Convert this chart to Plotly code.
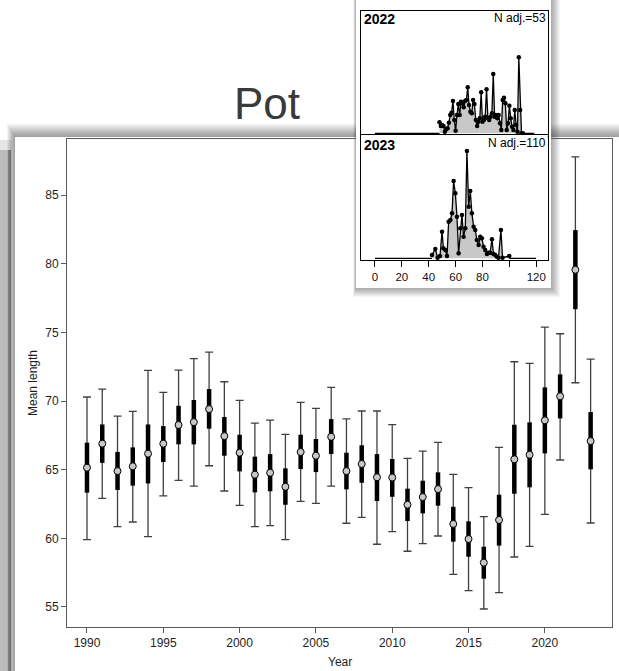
import plotly.graph_objects as go

W, H = 619, 671
FONT = "Liberation Sans, Arial, sans-serif"

# ---- yearly mean length with inner / outer intervals ----
years = list(range(1990, 2024))
mean_len = [65.15, 66.9, 64.9, 65.25, 66.17, 66.9, 68.26, 68.47, 69.42, 67.45,
            66.24, 64.64, 64.78, 63.76, 66.29, 66.02, 67.4, 64.9, 65.42, 64.45,
            64.43, 62.45, 63.01, 63.59, 61.05, 59.95, 58.23, 61.34, 65.76, 66.09,
            68.6, 70.35, 79.57, 67.09]
inner_lo = [63.33, 65.5, 63.52, 63.84, 64.0, 65.56, 66.85, 66.85, 67.99, 66.02,
            64.88, 63.35, 63.43, 62.45, 65.05, 64.83, 66.14, 63.57, 64.05, 62.72,
            63.03, 61.26, 61.82, 62.38, 59.76, 58.66, 57.06, 59.47, 63.25, 63.72,
            66.19, 68.74, 76.7, 65.03]
inner_hi = [66.97, 68.3, 66.3, 66.63, 68.3, 68.18, 69.66, 70.08, 70.88, 68.84,
            67.55, 65.95, 66.14, 65.1, 67.55, 67.24, 68.69, 66.24, 66.78, 66.14,
            65.78, 63.62, 64.2, 64.81, 62.3, 61.24, 59.39, 63.18, 68.28, 68.45,
            71.0, 71.95, 82.46, 69.2]
outer_lo = [59.9, 62.92, 60.85, 61.19, 60.12, 63.1, 64.23, 63.81, 65.29, 63.45,
            62.4, 60.85, 60.92, 59.9, 62.7, 62.55, 63.81, 61.1, 61.53, 59.57,
            60.49, 59.06, 59.61, 60.17, 57.38, 56.19, 54.85, 56.04, 58.64, 59.42,
            61.75, 65.71, 71.34, 61.12]
outer_hi = [70.3, 70.88, 68.9, 69.25, 72.24, 70.64, 72.26, 73.09, 73.57, 71.41,
            70.05, 68.4, 68.62, 67.58, 69.91, 69.47, 71.0, 68.71, 69.28, 69.28,
            68.28, 65.83, 66.36, 67.0, 64.66, 63.69, 61.58, 66.63, 72.87, 72.75,
            75.39, 74.91, 87.8, 73.06]

x_ticks = [1990, 1995, 2000, 2005, 2010, 2015, 2020]
y_ticks = [55, 60, 65, 70, 75, 80, 85]

# ---- length distributions (relative frequency) ----
len_2022 = list(range(48, 111))
freq_2022 = [33, 22, 24, 22, 5, 12, 15, 32, 55, 62, 97, 40, 8, 55, 88, 55, 95, 90,
             78, 97, 100, 138, 85, 65, 60, 100, 88, 40, 22, 35, 45, 123, 35, 40,
             50, 132, 45, 40, 50, 60, 178, 50, 55, 45, 55, 30, 10, 100, 107, 90,
             10, 30, 83, 45, 20, 10, 70, 25, 5, 228, 70, 0, 0]
len_2023 = [42.4, 44.9, 46.6, 48.4, 49.9, 50.9, 52.4, 53.6, 54.8, 56.1, 57.3,
            58.5, 59.8, 61.0, 62.2, 63.5, 64.7, 65.9, 67.2, 68.4, 69.7, 70.9,
            72.1, 73.4, 74.6, 75.8, 77.1, 78.3, 79.5, 80.8, 82.0, 83.3, 84.5,
            85.7, 87.0, 88.2, 89.5, 90.7, 91.9, 93.7, 94.9, 99.9]
freq_2023 = [10, 28, 2, 7, 80, 30, 25, 7, 110, 115, 135, 232, 195, 125, 15, 90,
             130, 65, 90, 322, 155, 202, 135, 95, 85, 55, 40, 65, 60, 35, 25, 13,
             17, 17, 57, 13, 10, 5, 2, 85, 2, 7]
len_ticks = [0, 20, 40, 60, 80, 100, 120]
len_tick_text = ["0", "20", "40", "60", "80", "", "120"]


def px(x):
    return x / W


def py(y):
    return 1 - y / H


def rect(x0, y0, x1, y1, fill):
    return dict(type="rect", xref="paper", yref="paper", layer="below",
                x0=px(x0), x1=px(x1), y0=py(y1), y1=py(y0),
                fillcolor=fill, line=dict(width=0))


fig = go.Figure()

# outer interval whiskers
fig.add_trace(go.Scatter(
    x=years, y=mean_len, mode="markers", marker=dict(size=2, opacity=0),
    error_y=dict(type="data", symmetric=False,
                 array=[h - m for h, m in zip(outer_hi, mean_len)],
                 arrayminus=[m - l for m, l in zip(mean_len, outer_lo)],
                 width=4, thickness=1.3, color="#404040"),
    hoverinfo="skip", showlegend=False))
# inner interval bars
fig.add_trace(go.Scatter(
    x=years, y=mean_len, mode="markers", marker=dict(size=2, opacity=0),
    error_y=dict(type="data", symmetric=False,
                 array=[h - m for h, m in zip(inner_hi, mean_len)],
                 arrayminus=[m - l for m, l in zip(mean_len, inner_lo)],
                 width=0, thickness=4.5, color="#000000"),
    hoverinfo="skip", showlegend=False))
# means
fig.add_trace(go.Scatter(
    x=years, y=mean_len, mode="markers",
    marker=dict(symbol="circle", size=7, color="#c8c8c8",
                line=dict(color="#000000", width=1)),
    showlegend=False))

# card behind the inset panels (its own subplot so its background hides the frame)
fig.add_trace(go.Scatter(x=[None], y=[None], xaxis="x2", yaxis="y2",
                         showlegend=False, hoverinfo="skip"))


def dist_traces(lengths, freqs, xa, ya, x_end):
    fig.add_trace(go.Scatter(
        x=[0, lengths[0]], y=[0, 0], xaxis=xa, yaxis=ya, mode="lines",
        line=dict(color="#000000", width=1.3), showlegend=False, hoverinfo="skip"))
    fig.add_trace(go.Scatter(
        x=[lengths[-1], x_end], y=[0, 0], xaxis=xa, yaxis=ya, mode="lines",
        line=dict(color="#000000", width=1.3), showlegend=False, hoverinfo="skip"))
    fig.add_trace(go.Scatter(
        x=lengths, y=freqs, xaxis=xa, yaxis=ya, mode="lines+markers",
        fill="tozeroy", fillcolor="#c8c8c8",
        line=dict(color="#000000", width=1.3),
        marker=dict(color="#000000", size=4.5), showlegend=False))


dist_traces(len_2022, freq_2022, "x3", "y3", 118.5)
dist_traces(len_2023, freq_2023, "x4", "y4", 119.8)

tick_font = dict(family=FONT, size=12, color="#1e1e1e")

shapes = []
# back panel on the left edge
shapes.append(rect(0, 140, 12, H, "#e6e6e6"))
shapes.append(rect(0, 150, 11, H, "#bcbcbc"))
shapes.append(rect(8, 150, 11, H, "#8c8c8c"))
# soft shadow of the main card
for k in range(10, 0, -1):
    shapes.append(rect(15 - k * 0.8, 137 - k * 1.3, W + 20, H + 20,
                       "rgba(0,0,0,0.045)"))
shapes.append(rect(15, 137, W + 20, H + 20, "#ffffff"))
# soft shadow of the inset card
for k in range(9, 0, -1):
    shapes.append(rect(356 - k * 0.3, 0, 551 + k, 288 + k, "rgba(0,0,0,0.04)"))

annotations = [
    dict(text="Pot", x=px(267), y=py(103), xref="paper", yref="paper",
         showarrow=False, font=dict(family=FONT, size=44, color="#3a3a3a"),
         xanchor="center", yanchor="middle"),
    dict(text="Mean length", x=px(33), y=py(383), xref="paper", yref="paper",
         textangle=-90, showarrow=False, font=tick_font,
         xanchor="center", yanchor="middle"),
    dict(text="Year", x=px(340), y=py(662), xref="paper", yref="paper",
         showarrow=False, font=tick_font, xanchor="center", yanchor="middle"),
    dict(text="<b>2022</b>", x=px(362), y=py(19), xref="paper", yref="paper",
         showarrow=False, font=dict(family=FONT, size=14, color="#000"),
         xanchor="left", yanchor="middle"),
    dict(text="N adj.=53", x=px(548), y=py(17.5), xref="paper", yref="paper",
         showarrow=False, font=dict(family=FONT, size=12, color="#000"),
         xanchor="right", yanchor="middle"),
    dict(text="<b>2023</b>", x=px(362), y=py(145), xref="paper", yref="paper",
         showarrow=False, font=dict(family=FONT, size=14, color="#000"),
         xanchor="left", yanchor="middle"),
    dict(text="N adj.=110", x=px(548), y=py(143), xref="paper", yref="paper",
         showarrow=False, font=dict(family=FONT, size=12, color="#000"),
         xanchor="right", yanchor="middle"),
]

frame = dict(showline=True, mirror=True, linecolor="#5a5a5a", linewidth=1,
             showgrid=False, zeroline=False)
box = dict(showline=True, mirror=True, linecolor="#000000", linewidth=1,
           showgrid=False, zeroline=False)

fig.update_layout(
    width=W, height=H, margin=dict(l=0, r=0, t=0, b=0),
    paper_bgcolor="#ffffff", plot_bgcolor="#ffffff",
    font=dict(family=FONT),
    shapes=shapes, annotations=annotations,
    xaxis=dict(domain=[px(67), px(612)], range=[1988.69, 2024.4],
               tickvals=x_ticks, ticks="outside", ticklen=5, tickcolor="#5a5a5a",
               tickfont=tick_font, anchor="y", **frame),
    yaxis=dict(domain=[py(627), py(139)], range=[53.54, 89.1],
               tickvals=y_ticks, ticks="outside", ticklen=5, tickcolor="#5a5a5a",
               tickfont=tick_font, anchor="x", **frame),
    xaxis2=dict(domain=[px(356), px(551)], visible=False, range=[0, 1], anchor="y2"),
    yaxis2=dict(domain=[py(288), py(0)], visible=False, range=[0, 1], anchor="x2"),
    xaxis3=dict(domain=[px(361), px(547.7)], range=[-10.4, 128.5],
                showticklabels=False, ticks="", anchor="y3", **box),
    yaxis3=dict(domain=[py(135.7), py(10.7)], range=[-7, 368],
                showticklabels=False, ticks="", anchor="x3", **box),
    xaxis4=dict(domain=[px(361), px(547.7)], range=[-10.4, 128.5],
                tickvals=len_ticks, ticktext=len_tick_text, ticks="outside",
                ticklen=6, tickcolor="#000", tickfont=dict(family=FONT, size=11.5, color="#111"),
                anchor="y4", **box),
    yaxis4=dict(domain=[py(260), py(135)], range=[-5, 370],
                showticklabels=False, ticks="", anchor="x4", **box),
)

fig.write_html("out.html", config=dict(displayModeBar=False))
